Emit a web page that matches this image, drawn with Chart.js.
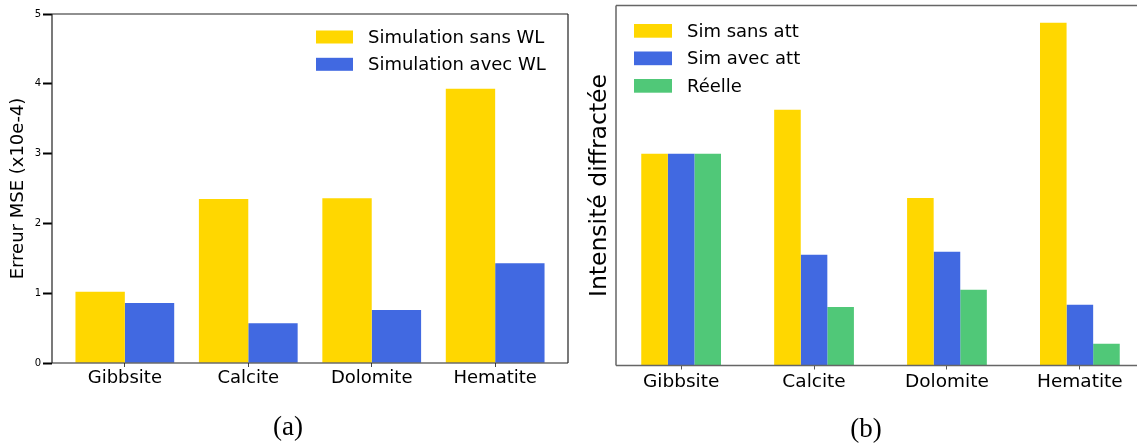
<!DOCTYPE html>
<html>
<head>
<meta charset="utf-8">
<script src="https://cdn.jsdelivr.net/npm/chart.js@4.4.1/dist/chart.umd.min.js"></script>
<style>
  html, body { margin:0; padding:0; overflow:hidden; background:#fff; width:1137px; height:448px; }
  #wrap { position:relative; width:1137px; height:448px; overflow:hidden; }
  .box { position:absolute; top:0; height:448px; }
  .cap { position:absolute; font-family:"Liberation Serif","DejaVu Serif",serif; font-size:27px; line-height:30px; color:#000; text-align:center; width:80px; }
</style>
</head>
<body>
<div id="wrap">
  <div class="box" style="left:0;width:580px;"><canvas id="ca"></canvas></div>
  <div class="box" style="left:580px;width:577px;"><canvas id="cb"></canvas></div>
  <div class="cap" style="left:248px;top:411px;">(a)</div>
  <div class="cap" style="left:826px;top:413px;">(b)</div>
</div>
<script>
// ---- data ----
const categories = ["Gibbsite", "Calcite", "Dolomite", "Hematite"];
const mseSansWL = [1.02, 2.35, 2.36, 3.93];
const mseAvecWL = [0.86, 0.57, 0.76, 1.43];
const mseTicks = [0, 1, 2, 3, 4, 5];
const intSansAtt = [1.0, 1.208, 0.792, 1.619];
const intAvecAtt = [1.0, 0.523, 0.537, 0.287];
const intReelle  = [1.0, 0.277, 0.358, 0.103];
const labelsA = ["Simulation sans WL", "Simulation avec WL"];
const labelsB = ["Sim sans att", "Sim avec att", "Réelle"];

const GOLD = "#FFD700", BLUE = "#4169E1", GREEN = "#50C878";
const FONT = "'DejaVu Sans', sans-serif";
const TXT = "#000";

function pts(arr) { return arr.map((v, i) => ({ x: i, y: v })); }

function legendPlugin(items, colors, px, pw, ph, py0, dy, tx) {
  return {
    id: 'customLegend',
    afterDraw(chart) {
      const ctx = chart.ctx;
      ctx.save();
      ctx.font = "18px " + FONT;
      ctx.textBaseline = 'middle';
      items.forEach((lab, i) => {
        const y = py0 + i * dy;
        ctx.fillStyle = colors[i];
        ctx.fillRect(px, y, pw, ph);
        ctx.fillStyle = TXT;
        ctx.fillText(lab, tx, y + ph / 2 + 1);
      });
      ctx.restore();
    }
  };
}

function spinePlugin(color, width, sides) {
  return {
    id: 'spines',
    afterDatasetsDraw(chart) {
      const a = chart.chartArea, ctx = chart.ctx;
      ctx.save();
      ctx.strokeStyle = color;
      ctx.lineWidth = width;
      ctx.beginPath();
      if (sides.includes('l')) { ctx.moveTo(a.left, a.top); ctx.lineTo(a.left, a.bottom); }
      if (sides.includes('t')) { ctx.moveTo(a.left, a.top); ctx.lineTo(a.right, a.top); }
      if (sides.includes('r')) { ctx.moveTo(a.right, a.top); ctx.lineTo(a.right, a.bottom); }
      if (sides.includes('b')) { ctx.moveTo(a.left, a.bottom); ctx.lineTo(a.right, a.bottom); }
      ctx.stroke();
      ctx.restore();
    }
  };
}

const catTicks = (scale) => { scale.ticks = categories.map((c, i) => ({ value: i })); };

// ---- chart (a) ----
new Chart(document.getElementById('ca'), {
  type: 'bar',
  data: {
    datasets: [
      { label: labelsA[0], data: pts(mseSansWL), backgroundColor: GOLD, categoryPercentage: 0.8, barPercentage: 1.0 },
      { label: labelsA[1], data: pts(mseAvecWL), backgroundColor: BLUE, categoryPercentage: 0.8, barPercentage: 1.0 }
    ]
  },
  options: {
    responsive: true, maintainAspectRatio: false, animation: false,
    layout: { padding: { top: 14, right: 12, left: 0, bottom: 0 } },
    plugins: { legend: { display: false }, tooltip: { enabled: false } },
    scales: {
      x: {
        type: 'linear', min: -0.59, max: 3.59, offset: false,
        afterBuildTicks: catTicks,
        afterFit: (s) => { s.height = 85; },
        border: { display: false },
        grid: { offset: false, drawOnChartArea: false, drawTicks: true, tickLength: 4, tickWidth: 1, tickColor: '#444' },
        ticks: { callback: (v) => categories[v], font: { family: FONT, size: 18 }, color: TXT, padding: 1, maxRotation: 0, autoSkip: false }
      },
      y: {
        min: 0, max: 5,
        afterBuildTicks: (s) => { s.ticks = mseTicks.map(v => ({ value: v })); },
        afterFit: (s) => { s.width = 52; },
        border: { display: false },
        grid: { drawOnChartArea: false, drawTicks: true, tickLength: 9, tickWidth: 2, tickColor: '#000' },
        ticks: { font: { family: FONT, size: 10 }, color: TXT, padding: 2 },
        title: { display: true, text: 'Erreur MSE (x10e-4)', font: { family: FONT, size: 18 }, color: TXT, padding: { top: 8, bottom: 0 } }
      }
    }
  },
  plugins: [spinePlugin('#222', 1.2, 'ltrb'), legendPlugin(labelsA, [GOLD, BLUE], 316, 37, 13, 30.5, 27.3, 368)]
});

// ---- chart (b) ----
new Chart(document.getElementById('cb'), {
  type: 'bar',
  data: {
    datasets: [
      { label: labelsB[0], data: pts(intSansAtt), backgroundColor: GOLD, categoryPercentage: 0.6, barPercentage: 1.0 },
      { label: labelsB[1], data: pts(intAvecAtt), backgroundColor: BLUE, categoryPercentage: 0.6, barPercentage: 1.0 },
      { label: labelsB[2], data: pts(intReelle), backgroundColor: GREEN, categoryPercentage: 0.6, barPercentage: 1.0 }
    ]
  },
  options: {
    responsive: true, maintainAspectRatio: false, animation: false,
    layout: { padding: { top: 5.5, right: 12, left: 0, bottom: 0 } },
    plugins: { legend: { display: false }, tooltip: { enabled: false } },
    scales: {
      x: {
        type: 'linear', min: -0.49, max: 3.49, offset: false,
        afterBuildTicks: catTicks,
        afterFit: (s) => { s.height = 82.5; },
        border: { display: false },
        grid: { offset: false, drawOnChartArea: false, drawTicks: true, tickLength: 4, tickWidth: 1, tickColor: '#555' },
        ticks: { callback: (v) => categories[v], font: { family: FONT, size: 18.5 }, color: TXT, padding: 2, maxRotation: 0, autoSkip: false }
      },
      y: {
        min: 0, max: 1.701,
        afterFit: (s) => { s.width = 36; },
        border: { display: false },
        grid: { display: false },
        ticks: { display: false },
        title: { display: true, text: 'Intensité diffractée', font: { family: FONT, size: 23.5 }, color: TXT, padding: { top: 6, bottom: 0 } }
      }
    }
  },
  plugins: [spinePlugin('#666', 1.5, 'ltb'), legendPlugin(labelsB, [GOLD, BLUE, GREEN], 54, 38, 13.7, 24, 27.5, 107)]
});
</script>
</body>
</html>
